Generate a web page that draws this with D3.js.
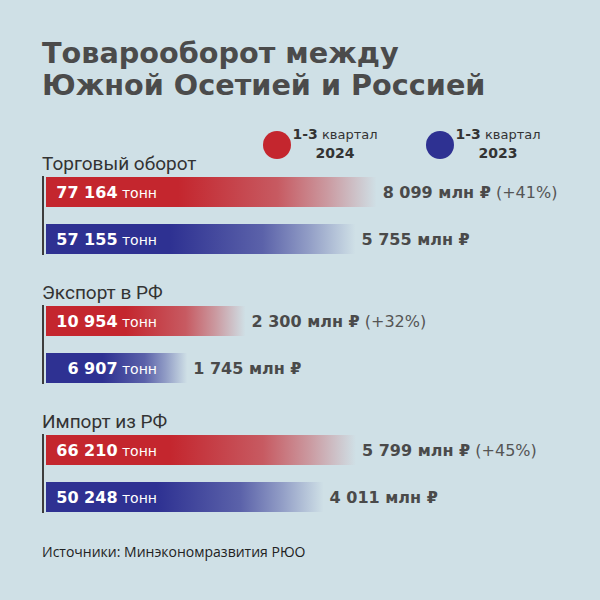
<!DOCTYPE html>
<html><head><meta charset="utf-8">
<script src="https://cdn.jsdelivr.net/npm/d3@7/dist/d3.min.js"></script>
<style>html,body{margin:0;padding:0;background:#cfe0e6;}svg{display:block;}</style>
</head><body>
<script>
const titleLines = ["Товарооборот между", "Южной Осетией и Россией"];
const categories = ["Торговый оборот", "Экспорт в РФ", "Импорт из РФ"];
const seriesKeys = ["2024", "2023"];
const seriesLabels = ["1-3 квартал", "1-3 квартал"];
const seriesColors = ["#c4262e", "#2e3192"];
const tonnes2024 = [77164, 10954, 66210];
const tonnes2023 = [57155, 6907, 50248];
const rub2024 = [8099, 2300, 5799];
const rub2023 = [5755, 1745, 4011];
const growth = ["+41%", "+32%", "+45%"];
const sourceText = "Источники: Минэкономразвития РЮО";

const W = 600, H = 600;
const svg = d3.select("body").append("svg").attr("width", W).attr("height", H);
svg.append("rect").attr("width", W).attr("height", H).attr("fill", "#cfe0e6");

const fmt = v => d3.format(",")(v).replace(/,/g, " ");

// gradients
const defs = svg.append("defs");
seriesColors.forEach((c, i) => {
  const g = defs.append("linearGradient").attr("id", "grad" + i)
    .attr("x1", 0).attr("x2", 1).attr("y1", 0).attr("y2", 0);
  [[0, 1], [0.4, 1], [0.7, 0.72], [0.85, 0.38], [1, 0]].forEach(([o, a]) =>
    g.append("stop").attr("offset", o).attr("stop-color", c).attr("stop-opacity", a));
});

// title
const title = svg.append("text").attr("x", 42).attr("font-family", "DejaVu Sans")
  .attr("font-weight", "bold").attr("font-size", 28.7).attr("fill", "#4b4b4b");
titleLines.forEach((t, i) => title.append("tspan").attr("x", 42).attr("y", 63 + i * 32).text(t));

// legend
const legendX = [277, 440];
seriesKeys.forEach((k, i) => {
  const g = svg.append("g");
  g.append("circle").attr("cx", legendX[i]).attr("cy", 145).attr("r", 14).attr("fill", seriesColors[i]);
  const t = g.append("text").attr("x", legendX[i] + 58).attr("y", 139).attr("text-anchor", "middle")
    .attr("font-family", "DejaVu Sans").attr("fill", "#333");
  const parts = seriesLabels[i].split(" ");
  t.append("tspan").attr("font-weight", "bold").attr("font-size", 14).text(parts[0]);
  t.append("tspan").attr("font-size", 13).text(" " + parts.slice(1).join(" "));
  g.append("text").attr("x", legendX[i] + 58).attr("y", 158).attr("text-anchor", "middle")
    .attr("font-family", "DejaVu Sans").attr("font-weight", "bold").attr("font-size", 14)
    .attr("fill", "#333").text(k);
});

// scales
const y = d3.scaleBand().domain(categories).range([177, 177 + 3 * 129]).paddingInner(0);
const ySub = d3.scaleBand().domain(seriesKeys).range([0, 77]).paddingInner(0.3617).paddingOuter(0);
const x0 = 46;
const len = d3.scalePow().exponent(-1).domain([2000, 8000]).range([172, 330]);

const rows = [];
categories.forEach((c, i) => {
  rows.push({cat: c, key: "2024", si: 0, t: tonnes2024[i], r: rub2024[i], g: growth[i]});
  rows.push({cat: c, key: "2023", si: 1, t: tonnes2023[i], r: rub2023[i], g: null});
});

// group labels and axis lines
categories.forEach(c => {
  svg.append("text").attr("x", 42).attr("y", y(c) - 7)
    .attr("font-family", "Roboto").attr("font-size", 19).attr("fill", "#333").text(c);
  svg.append("line").attr("x1", 43).attr("x2", 43)
    .attr("y1", y(c) - 1).attr("y2", y(c) + 78)
    .attr("stroke", "#3d3d3d").attr("stroke-width", 2);
});

const bars = svg.append("g");
rows.forEach(d => {
  const by = y(d.cat) + ySub(d.key), bh = ySub.bandwidth();
  const bw = len(d.r);
  bars.append("rect").attr("x", x0).attr("y", by).attr("width", bw).attr("height", bh)
    .attr("fill", `url(#grad${d.si})`);
  const lt = bars.append("text").attr("x", 157).attr("y", by + bh / 2 + 6).attr("text-anchor", "end")
    .attr("font-family", "DejaVu Sans").attr("fill", "#fff");
  lt.append("tspan").attr("font-weight", "bold").attr("font-size", 16).text(fmt(d.t));
  lt.append("tspan").attr("font-size", 14).text(" тонн");
  const vt = bars.append("text").attr("x", x0 + bw + 6).attr("y", by + bh / 2 + 6)
    .attr("font-family", "DejaVu Sans").attr("font-size", 16).attr("fill", "#4a4a4a");
  vt.append("tspan").attr("font-weight", "bold").text(fmt(d.r) + " млн ₽");
  if (d.g) vt.append("tspan").attr("fill", "#555").text(" (" + d.g + ")");
});

svg.append("text").attr("x", 42).attr("y", 557).attr("font-family", "Open Sans")
  .attr("font-size", 14).attr("fill", "#222").text(sourceText);
</script>
</body></html>
